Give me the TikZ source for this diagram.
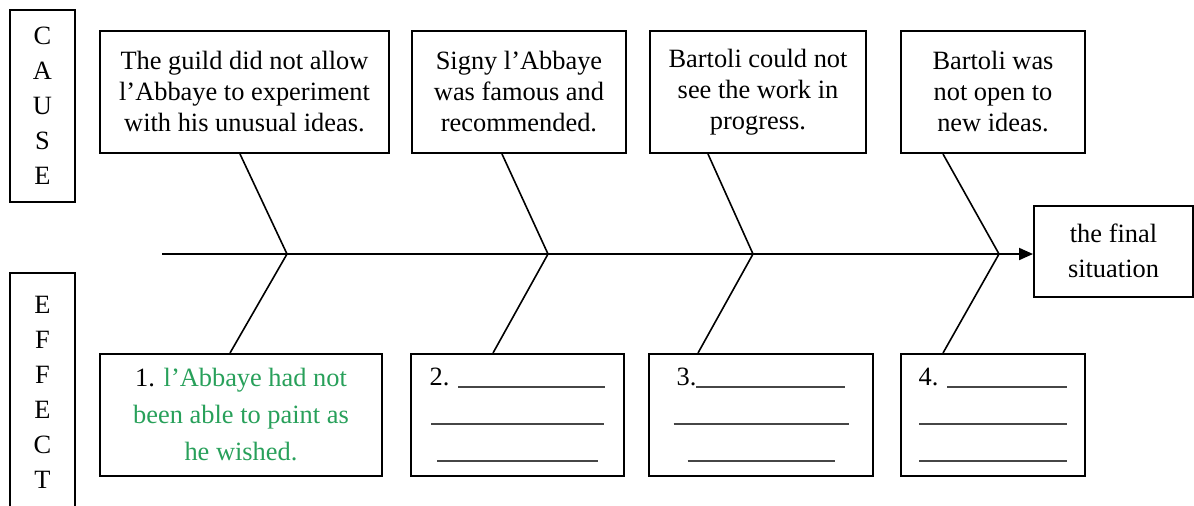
\documentclass[tikz,border=0pt]{standalone}
\usepackage{fontspec}
\setmainfont{Liberation Serif}
\usetikzlibrary{arrows.meta}
\definecolor{answergreen}{RGB}{40,160,90}
\definecolor{blankgray}{RGB}{70,70,70}
\newcommand{\blank}[1]{\textcolor{blankgray}{\rule[-1.5pt]{#1}{0.9pt}}}
\begin{document}
\begin{tikzpicture}[x=0.5pt,y=-0.5pt,
  box/.style={draw, line width=1pt, inner sep=0pt, align=center, font=\fontsize{13.2}{15.5}\selectfont},
  causebox/.style={box, minimum height=61pt},
  effectbox/.style={box, minimum height=61pt, font=\fontsize{13.2}{18.5}\selectfont},
  sidebox/.style={box, minimum width=32.5pt, font=\fontsize{13.2}{17.5}\selectfont},
  bone/.style={line width=0.8pt}]
\useasboundingbox (0,0) rectangle (1194,505);
\node[sidebox, minimum height=96pt] (cause) at (42.5,106) {C\\A\\U\\S\\E};
\node[sidebox, minimum height=119.5pt] (effect) at (42.5,392.5) {E\\F\\F\\E\\C\\T};
\node[causebox, minimum width=144.5pt] (c1) at (244.5,92) {The guild did not allow\\l’Abbaye to experiment\\with his unusual ideas.};
\node[causebox, minimum width=107pt] (c2) at (519,92) {Signy l’Abbaye\\was famous and\\recommended.};
\node[causebox, minimum width=108pt] (c3) at (758,92) {Bartoli could not\\see the work in\\progress.};
\node[causebox, minimum width=92pt] (c4) at (993,92) {Bartoli was\\not open to\\new ideas.};
\node[effectbox, minimum width=141pt] (e1) at (241,415) {1. \textcolor{answergreen}{l’Abbaye had not}\\\textcolor{answergreen}{been able to paint as}\\\textcolor{answergreen}{he wished.}};
\node[effectbox, minimum width=106.5pt] (e2) at (517.5,415) {2. \blank{73.5pt}\\\blank{86.5pt}\\\blank{80.5pt}};
\node[effectbox, minimum width=112pt] (e3) at (761,415) {3.\blank{74.5pt}\\\blank{87.5pt}\\\blank{73.5pt}};
\node[effectbox, minimum width=92pt] (e4) at (993,415) {4. \blank{60pt}\\\blank{74pt}\\\blank{74pt}};
\node[box, minimum width=79.5pt, minimum height=45.5pt, font=\fontsize{13.2}{17.5}\selectfont] (fin) at (1113.5,251) {the final\\situation};
\coordinate (tail) at (162,254);
\coordinate (j1) at (287,254);
\coordinate (j2) at (548,254);
\coordinate (j3) at (753,254);
\coordinate (j4) at (999,254);
\path[draw,line width=1pt,-{Triangle[length=7pt,width=6pt]}] (tail) -- (tail -| fin.west);
\path[draw,bone] ([xshift=-2.25pt]c1.south) -- (j1) -- ([xshift=-5.5pt]e1.north);
\path[draw,bone] ([xshift=-8.5pt]c2.south) -- (j2) -- ([xshift=-12.25pt]e2.north);
\path[draw,bone] ([xshift=-25pt]c3.south) -- (j3) -- ([xshift=-31.5pt]e3.north);
\path[draw,bone] ([xshift=-25pt]c4.south) -- (j4) -- ([xshift=-25pt]e4.north);
\end{tikzpicture}
\end{document}
